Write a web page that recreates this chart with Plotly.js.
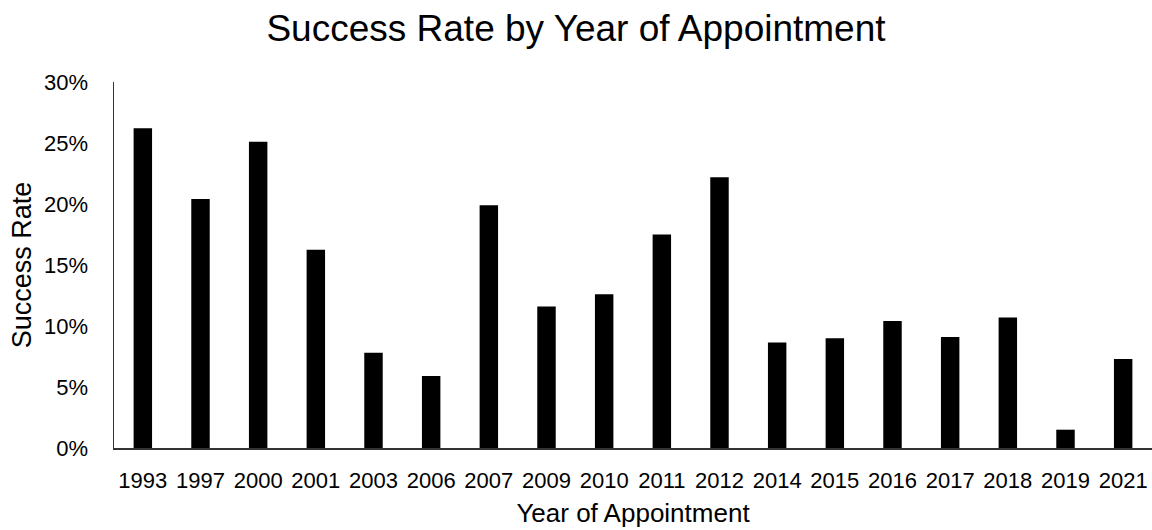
<!DOCTYPE html>
<html>
<head>
<meta charset="utf-8">
<script src="https://cdn.plot.ly/plotly-3.0.1.min.js"></script>
<style>html,body{margin:0;padding:0;background:#fff;}#chart{width:1152px;height:530px;}</style>
</head>
<body>
<div id="chart"></div>
<script>
const years = ["1993","1997","2000","2001","2003","2006","2007","2009","2010","2011","2012","2014","2015","2016","2017","2018","2019","2021"];
const successRate = [0.262,0.204,0.251,0.1625,0.078,0.059,0.199,0.116,0.126,0.175,0.222,0.0865,0.090,0.104,0.091,0.107,0.015,0.073];
const yTickVals = [0,0.05,0.10,0.15,0.20,0.25,0.30];

const font = "Liberation Sans, Arial, sans-serif";
Plotly.newPlot('chart', [{
  type: 'bar',
  x: years,
  y: successRate,
  marker: {color: '#000000', line: {width: 0}},
  hoverinfo: 'x+y'
}], {
  width: 1152, height: 530,
  margin: {l: 114, r: 0, t: 82, b: 82},
  paper_bgcolor: '#fff', plot_bgcolor: '#fff',
  bargap: 0.68,
  title: {text: 'Success Rate by Year of Appointment', font: {family: font, size: 37, color: '#000'}, x: 0.5, xanchor: 'center', y: 0.948, yanchor: 'middle'},
  font: {family: font, color: '#000'},
  xaxis: {
    type: 'category',
    showline: true, linecolor: '#333', linewidth: 1.5,
    showgrid: false, zeroline: false,
    ticks: '', ticklabelstandoff: 12,
    tickfont: {family: font, size: 22, color: '#000'},
    title: {text: 'Year of Appointment', font: {family: font, size: 26, color: '#000'}, standoff: 12}
  },
  yaxis: {
    range: [0, 0.3],
    tickvals: yTickVals, tickformat: '.0%',
    showline: true, linecolor: '#333', linewidth: 1.5,
    showgrid: false, zeroline: false,
    ticks: '', ticklabelstandoff: 20,
    tickfont: {family: font, size: 22, color: '#000'},
    title: {text: 'Success Rate', font: {family: font, size: 27, color: '#000'}, standoff: 4}
  },
  showlegend: false
}, {displayModeBar: false, staticPlot: true});
</script>
</body>
</html>
